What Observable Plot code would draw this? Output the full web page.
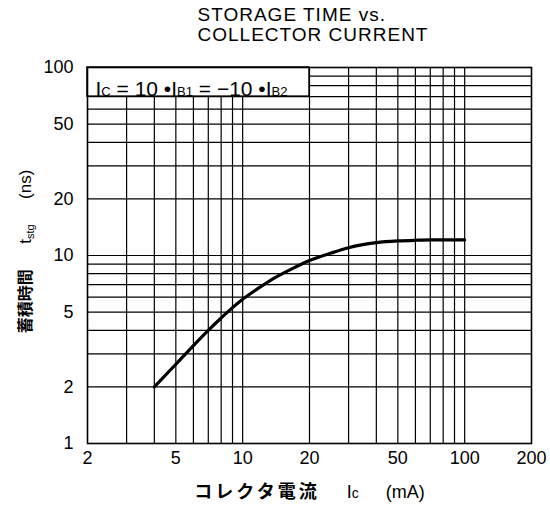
<!DOCTYPE html>
<html>
<head>
<meta charset="utf-8">
<script src="https://cdn.jsdelivr.net/npm/d3@7"></script>
<script src="https://cdn.jsdelivr.net/npm/@observablehq/plot@0.6"></script>
<style>
  html, body { margin: 0; padding: 0; background: white; }
</style>
</head>
<body>
<div id="chart"></div>
<script>
// Data
const titleLines = ["STORAGE TIME vs.", "COLLECTOR CURRENT"];
const xTicks = [2, 5, 10, 20, 50, 100, 200];
const yTicks = [1, 2, 5, 10, 20, 50, 100];
const xGrid = [3, 4, 5, 6, 7, 8, 9, 10, 20, 30, 40, 50, 60, 70, 80, 90, 100];
const yGrid = [2, 3, 4, 5, 6, 7, 8, 9, 10, 20, 30, 40, 50, 60, 70, 80, 90];
const currentMA = [4, 5, 6, 7, 8, 9, 10, 12, 14, 17, 20, 25, 30, 40, 50, 60, 70, 80, 90, 100];
const storageNs = [2.0, 2.64, 3.32, 4.0, 4.65, 5.28, 5.85, 6.8, 7.63, 8.6, 9.4, 10.3, 11.0, 11.7, 11.95, 12.05, 12.1, 12.1, 12.1, 12.1];
const conditionText = "IC = 10 •IB1 = −10 •IB2";
const xLabel = "コレクタ電流 Ic (mA)";
const yLabel = "蓄積時間 tstg (ns)";

const curve = currentMA.map((x, i) => ({x, y: storageNs[i]}));

const chart = Plot.plot({
  width: 550,
  height: 515,
  marginLeft: 87,
  marginRight: 19,
  marginTop: 67,
  marginBottom: 72,
  style: {fontFamily: "'Liberation Sans', Arial, sans-serif", fontSize: "18px", background: "white", color: "black"},
  x: {type: "log", domain: [2, 200], axis: null},
  y: {type: "log", domain: [1, 100], axis: null},
  marks: [
    Plot.ruleX(xGrid, {stroke: "black", strokeWidth: 1.2}),
    Plot.ruleY(yGrid, {stroke: "black", strokeWidth: 1.2}),
    Plot.rect([0], {x1: 2, x2: 20, y1: 70, y2: 100, fill: "white", stroke: "black", strokeWidth: 1.5}),
    Plot.frame({stroke: "black", strokeWidth: 1.6}),
    Plot.text(xTicks, {x: d => d, frameAnchor: "bottom", dy: 20, text: d => String(d), fontSize: 18}),
    Plot.text(yTicks, {y: d => d, frameAnchor: "left", dx: -14, textAnchor: "end", text: d => String(d), fontSize: 18}),
    Plot.line(curve, {x: "x", y: "y", stroke: "black", strokeWidth: 3.2, curve: "monotone-x"}),
    Plot.text([titleLines[0]], {frameAnchor: "top-left", dx: 110, dy: -60, textAnchor: "start", fontSize: 19}),
    Plot.text([titleLines[1]], {frameAnchor: "top-left", dx: 110, dy: -40, textAnchor: "start", fontSize: 19}),
    Plot.text([conditionText], {frameAnchor: "top-left", dx: 8, dy: 14, textAnchor: "start", fontSize: 21}),
    Plot.text([xLabel], {frameAnchor: "bottom", dy: 54, textAnchor: "middle", fontSize: 18}),
    Plot.text([yLabel], {frameAnchor: "left", dx: -62, dy: -4, rotate: -90, textAnchor: "middle", fontSize: 16})
  ]
});

const svg = d3.select(chart);
svg.selectAll("text").filter(function() { return titleLines.includes(this.textContent); })
  .attr("letter-spacing", 1);
function rebuild(match, parts) {
  svg.selectAll("text").filter(function() { return this.textContent === match; }).each(function() {
    const t = d3.select(this);
    t.text(null);
    for (const p of parts) {
      const s = t.append("tspan").text(p.t);
      if (p.size) s.attr("font-size", p.size);
      if (p.dy != null) s.attr("dy", p.dy);
      if (p.family) s.attr("font-family", p.family);
      if (p.weight) s.attr("font-weight", p.weight);
      if (p.ls) s.attr("letter-spacing", p.ls);
    }
  });
}
rebuild(conditionText, [
  {t: "I"}, {t: "C", size: 13},
  {t: " = 10 •I"}, {t: "B1", size: 13},
  {t: " = −10 •I"}, {t: "B2", size: 13}
]);
rebuild(xLabel, [
  {t: "コレクタ電流", family: "'Noto Sans CJK JP', sans-serif", weight: "bold", size: 18, ls: 3},
  {t: "\u2003\u2002I"}, {t: "c", size: 14},
  {t: "\u2003\u2002(mA)"}
]);
rebuild(yLabel, [
  {t: "蓄積時間", family: "'Noto Sans CJK JP', sans-serif", weight: "bold", size: 16},
  {t: "\u2003\u2002t", size: 17}, {t: "stg", size: 11, dy: 3},
  {t: "\u2003\u2002(ns)", size: 17, dy: -3}
]);

document.getElementById("chart").appendChild(chart);
</script>
</body>
</html>
